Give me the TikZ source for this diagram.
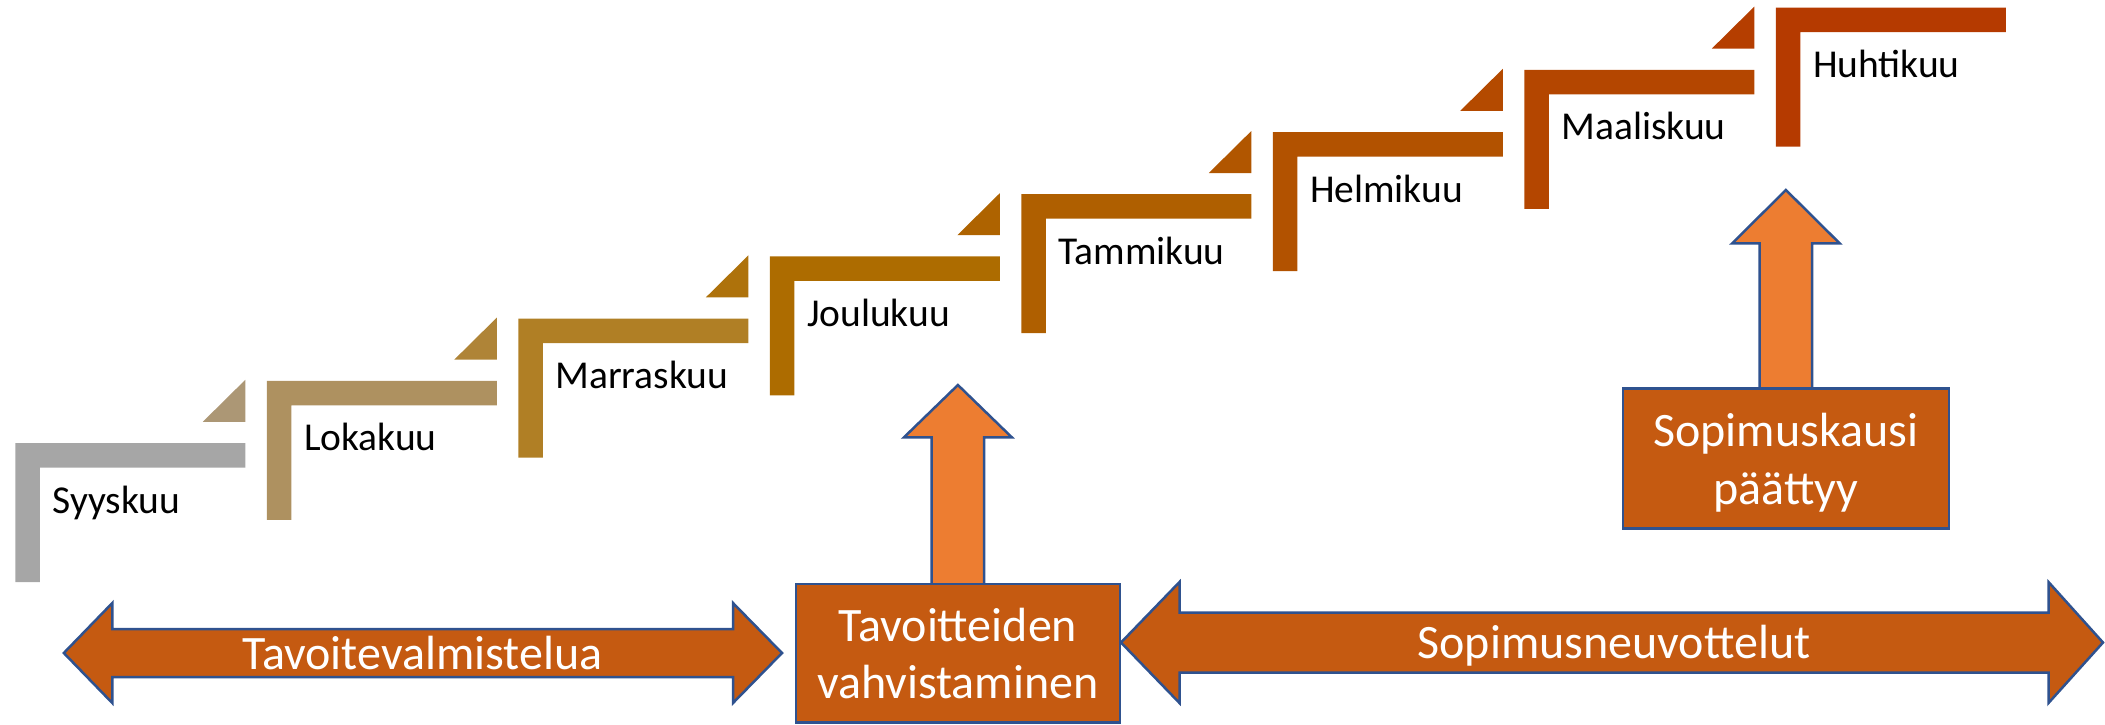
\documentclass[tikz,border=0pt]{standalone}
\usepackage{fontspec}
\setmainfont{Carlito}
\usetikzlibrary{calc}
\definecolor{c0}{HTML}{A6A6A6}
\definecolor{c1}{HTML}{AE9160}
\definecolor{c2}{HTML}{B07F25}
\definecolor{c3}{HTML}{AD6C00}
\definecolor{c4}{HTML}{AF5F00}
\definecolor{c5}{HTML}{B25200}
\definecolor{c6}{HTML}{B44600}
\definecolor{c7}{HTML}{B53A00}
\definecolor{boxfill}{HTML}{C55A11}
\definecolor{upfill}{HTML}{ED7D31}
\definecolor{edgeblue}{HTML}{2F528F}
\newcommand\labfont{\fontsize{39.5}{47}\selectfont}
\newcommand\whtfont{\fontsize{48}{57.6}\selectfont}
\tikzset{
  blockshape/.style={fill=boxfill, draw=edgeblue, line width=2.5pt, line join=miter},
  boxnode/.style={blockshape, rectangle, inner sep=0pt},
  upshape/.style={fill=upfill, draw=edgeblue, line width=2.5pt, line join=miter},
  monthlabel/.style={anchor=base west, inner sep=0pt, font=\labfont, text=black},
  whitelabel/.style={inner sep=0pt, font=\whtfont, text=white, align=center},
}
\begin{document}
\begin{tikzpicture}[x=1pt,y=-1pt]
\useasboundingbox (0,0) rectangle (2105,724);
% month steps
\foreach \i/\name in {0/Syyskuu,1/Lokakuu,2/Marraskuu,3/Joulukuu,4/Tammikuu,5/Helmikuu,6/Maaliskuu,7/Huhtikuu}{
  \pgfmathsetmacro{\l}{15.3+251.5*\i}
  \pgfmathsetmacro{\t}{443-62.2*\i}
  \fill[c\i] (\l,\t) -- (\l+230,\t) -- (\l+230,\t+24.5) -- (\l+24.5,\t+24.5)
      -- (\l+24.5,\t+139) -- (\l,\t+139) -- cycle;
  \node[monthlabel] (m\i) at (\l+37,\t+70) {\name};
  \ifnum\i>0
    \pgfmathtruncatemacro{\j}{\i-1}
    \pgfmathsetmacro{\r}{\l-21.5}
    \fill[c\i!70!c\j] (\r,\t-1) -- (\r,\t+41) -- (\r-42.5,\t+41) -- cycle;
  \fi
}
% left double arrow
\coordinate (la) at (63.8,653);
\coordinate (ra) at (782,653);
\draw[blockshape] (la) -- ($(la)+(48.5,-50)$) -- ($(la)+(48.5,-24)$) -- ($(ra)+(-49,-24)$)
  -- ($(ra)+(-49,-50)$) -- (ra) -- ($(ra)+(-49,50)$) -- ($(ra)+(-49,24)$)
  -- ($(la)+(48.5,24)$) -- ($(la)+(48.5,50)$) -- cycle;
\node[whitelabel, anchor=base] (tv) at (422.5,669.5) {Tavoitevalmistelua};
% right double arrow
\coordinate (lb) at (1121,642.5);
\coordinate (rb) at (2103,642.5);
\draw[blockshape] (lb) -- ($(lb)+(58.5,-60.5)$) -- ($(lb)+(58.5,-30)$) -- ($(rb)+(-54.5,-30)$)
  -- ($(rb)+(-54.5,-60.5)$) -- (rb) -- ($(rb)+(-54.5,60.5)$) -- ($(rb)+(-54.5,30)$)
  -- ($(lb)+(58.5,30)$) -- ($(lb)+(58.5,60.5)$) -- cycle;
\node[whitelabel, anchor=base] (sn) at (1614,658.5) {Sopimusneuvottelut};
% up arrows (drawn first, boxes cover their feet)
\coordinate (ta) at (957.9,584);
\draw[upshape] ($(ta)+(-26.2,0)$) -- ($(ta)+(-26.2,-146.7)$) -- ($(ta)+(-53.9,-146.7)$)
  -- ($(ta)+(0,-199)$) -- ($(ta)+(53.9,-146.7)$) -- ($(ta)+(26.2,-146.7)$) -- ($(ta)+(26.2,0)$);
\coordinate (sa) at (1785.9,388.3);
\draw[upshape] ($(sa)+(-26.2,0)$) -- ($(sa)+(-26.2,-145)$) -- ($(sa)+(-53.7,-145)$)
  -- ($(sa)+(0,-198.3)$) -- ($(sa)+(53.7,-145)$) -- ($(sa)+(26.2,-145)$) -- ($(sa)+(26.2,0)$);
% boxes
\node[boxnode, minimum width=324.3pt, minimum height=138.7pt] (tbox) at (957.9,653.35) {};
\node[whitelabel] (tt) at (957.9,653.3) {Tavoitteiden\\vahvistaminen};
\node[boxnode, minimum width=326.3pt, minimum height=140pt] (sbox) at (1785.9,458.3) {};
\node[whitelabel] (st) at (1785.9,462.7) {Sopimuskausi\\päättyy};
\end{tikzpicture}
\end{document}
